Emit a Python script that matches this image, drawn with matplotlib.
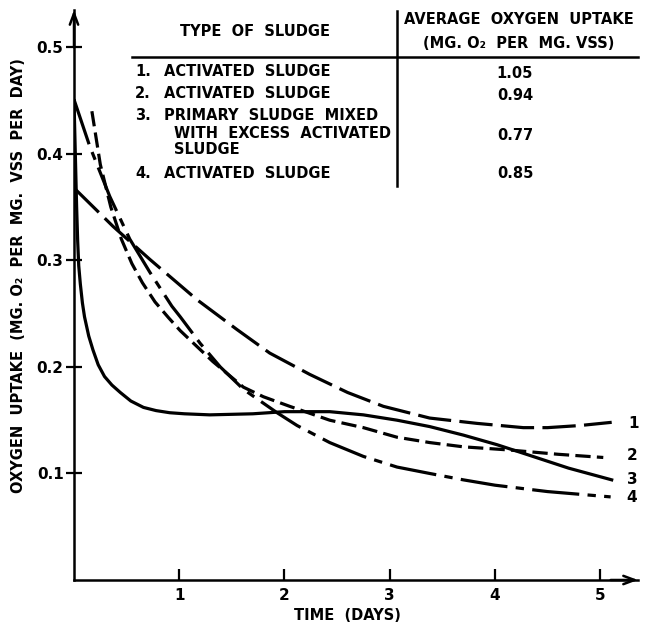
import matplotlib
matplotlib.use("Agg")
import matplotlib.pyplot as plt

# ---------------- data ----------------
x1 = [0.01, 0.37, 0.72, 1.17, 1.55, 1.86, 2.24, 2.60, 2.94, 3.38, 3.83, 4.27, 4.50, 4.81, 5.11]
y1 = [0.367, 0.332, 0.301, 0.263, 0.235, 0.213, 0.193, 0.176, 0.163, 0.152, 0.147, 0.143, 0.143, 0.145, 0.148]

x2 = [0.17, 0.25, 0.35, 0.45, 0.55, 0.65, 0.77, 0.90, 1.01, 1.17, 1.32, 1.61, 1.80, 2.05, 2.43, 2.75, 3.07, 3.38, 3.70, 4.14, 4.60, 5.03]
y2 = [0.440, 0.390, 0.350, 0.320, 0.297, 0.279, 0.261, 0.246, 0.234, 0.219, 0.205, 0.181, 0.172, 0.163, 0.150, 0.143, 0.134, 0.129, 0.125, 0.122, 0.118, 0.115]

x3 = [0.00, 0.005, 0.015, 0.025, 0.035, 0.045, 0.06, 0.08, 0.10, 0.14, 0.18, 0.23, 0.29, 0.36, 0.44, 0.54, 0.66, 0.78, 0.91, 1.05, 1.29,
      1.70, 2.00, 2.43, 2.75, 3.07, 3.38, 3.70, 4.02, 4.33, 4.70, 5.11]
y3 = [0.450, 0.430, 0.390, 0.350, 0.318, 0.295, 0.278, 0.260, 0.247, 0.229, 0.216, 0.202, 0.191, 0.183, 0.176, 0.168, 0.162, 0.159, 0.157, 0.156, 0.155,
      0.156, 0.158, 0.158, 0.155, 0.150, 0.144, 0.136, 0.127, 0.117, 0.105, 0.094]

x4 = [0.00, 0.15, 0.34, 0.53, 0.72, 0.93, 1.01, 1.20, 1.39, 1.61, 1.93, 2.12, 2.43, 2.75, 3.07, 3.38, 3.70, 4.00, 4.50, 5.10]
y4 = [0.451, 0.407, 0.360, 0.320, 0.289, 0.257, 0.247, 0.222, 0.200, 0.179, 0.157, 0.145, 0.129, 0.116, 0.106, 0.100, 0.094, 0.089, 0.083, 0.078]

curve_labels = ["1", "2", "3", "4"]
x_ticks = [1, 2, 3, 4, 5]
y_ticks = [0.1, 0.2, 0.3, 0.4, 0.5]
y_tick_labels = ["0.1", "0.2", "0.3", "0.4", "0.5"]

table_header_left = "TYPE  OF  SLUDGE"
table_header_right = ["AVERAGE  OXYGEN  UPTAKE", "(MG. O₂  PER  MG. VSS)"]
row_numbers = ["1.", "2.", "3.", "4."]
table_rows = [
    ["ACTIVATED  SLUDGE"],
    ["ACTIVATED  SLUDGE"],
    ["PRIMARY  SLUDGE  MIXED", "WITH  EXCESS  ACTIVATED", "SLUDGE"],
    ["ACTIVATED  SLUDGE"],
]
table_values = ["1.05", "0.94", "0.77", "0.85"]

# ---------------- figure ----------------
W, H = 647, 624
plt.rcParams["font.family"] = ["DejaVu Sans"]
plt.rcParams["font.weight"] = "bold"
plt.rcParams["lines.scale_dashes"] = False
fig = plt.figure(figsize=(W / 100, H / 100), dpi=100)

def fx(px):
    return px / W

def fy(py):
    return 1 - py / H

ax = fig.add_axes([fx(74), fy(580), (638 - 74) / W, (580 - 10) / H])
ax.set_xlim(0, 5.36)
ax.set_ylim(0, 0.535)

lw = 2.3
ax.plot(x1, y1, color="black", lw=lw, dashes=(24, 6))
ax.plot(x2, y2, color="black", lw=lw, dashes=(11, 4.5))
ax.plot(x3, y3, color="black", lw=lw, linestyle="-")
ax.plot(x4, y4, color="black", lw=lw, dashes=(34, 6, 6, 6))

for sp in ["top", "right"]:
    ax.spines[sp].set_visible(False)
for sp in ["left", "bottom"]:
    ax.spines[sp].set_linewidth(1.8)

arrow_style = "->,head_length=0.8,head_width=0.3"
ax.annotate("", xy=(5.36, 0), xytext=(5.1, 0), xycoords="data",
            arrowprops=dict(arrowstyle=arrow_style, lw=1.8, color="black",
                            shrinkA=0, shrinkB=0), annotation_clip=False)
ax.annotate("", xy=(0, 0.535), xytext=(0, 0.50), xycoords="data",
            arrowprops=dict(arrowstyle=arrow_style, lw=1.8, color="black",
                            shrinkA=0, shrinkB=0), annotation_clip=False)

ax.set_xticks(x_ticks)
ax.set_xticklabels([str(t) for t in x_ticks], fontsize=11)
ax.set_yticks(y_ticks)
ax.set_yticklabels(y_tick_labels, fontsize=11)
ax.tick_params(axis="x", direction="in", length=8, width=1.6, pad=6)
ax.tick_params(axis="y", direction="inout", length=11, width=1.6, pad=2)

fs = 10.5
fig.text(fx(347), fy(615), "TIME  (DAYS)", ha="center", va="center", fontsize=fs)
fig.text(fx(19), fy(276), "OXYGEN  UPTAKE  (MG. O₂  PER  MG.  VSS  PER  DAY)", ha="center", va="center",
         rotation=90, fontsize=fs)

# curve end labels
lab_pos = [(634, 424), (632, 455), (632, 480), (632, 498)]
for lab, (px, py) in zip(curve_labels, lab_pos):
    fig.text(fx(px), fy(py), lab, ha="center", va="center", fontsize=11)

# table
fig.text(fx(255), fy(31), table_header_left, ha="center", va="center", fontsize=fs)
fig.text(fx(519), fy(20), table_header_right[0], ha="center", va="center", fontsize=fs)
fig.text(fx(519), fy(43), table_header_right[1], ha="center", va="center", fontsize=fs)
fig.add_artist(plt.Line2D([fx(132), fx(638)], [fy(57), fy(57)], color="black", lw=1.8))
fig.add_artist(plt.Line2D([fx(397), fx(397)], [fy(11), fy(186)], color="black", lw=1.8))

row_y = [[72], [93], [115, 133, 150], [173]]
for num, lines, ys in zip(row_numbers, table_rows, row_y):
    fig.text(fx(135), fy(ys[0]), num, ha="left", va="center", fontsize=fs)
    for i, (t, py) in enumerate(zip(lines, ys)):
        px = 164 if i == 0 else 174
        fig.text(fx(px), fy(py), t, ha="left", va="center", fontsize=fs)
val_y = [73, 95, 135, 173]
for v, py in zip(table_values, val_y):
    fig.text(fx(515), fy(py), v, ha="center", va="center", fontsize=fs)

fig.savefig("out.png", dpi=100)
